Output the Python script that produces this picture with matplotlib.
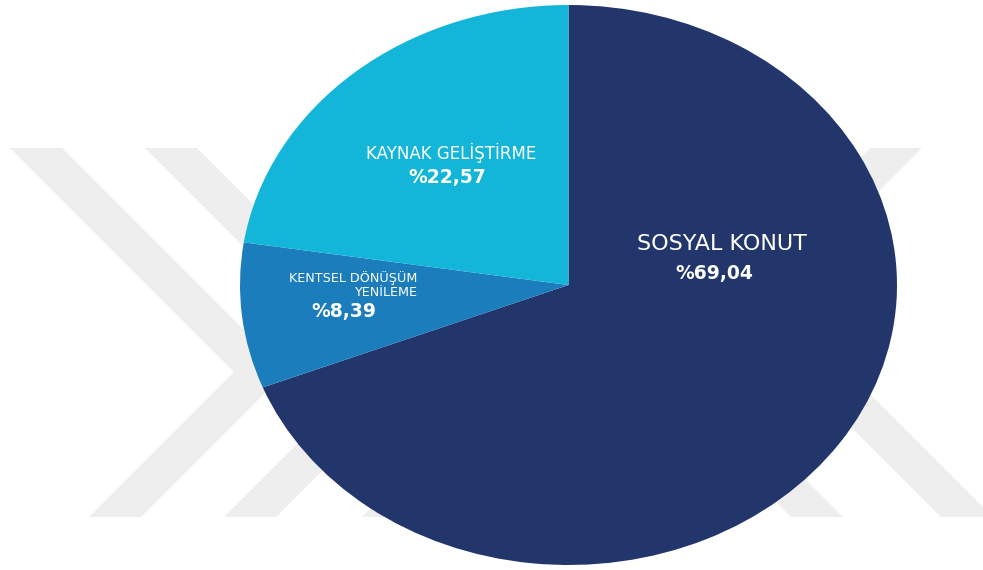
import matplotlib
matplotlib.use("Agg")
import matplotlib.pyplot as plt
from matplotlib.patches import Polygon

# ---- data ----
categories = ["SOSYAL KONUT", "KENTSEL DÖNÜŞÜM\nYENİLEME", "KAYNAK GELİŞTİRME"]
values = [69.04, 8.39, 22.57]
value_labels = ["%69,04", "%8,39", "%22,57"]
colors = ["#22366C", "#1B7DBB", "#13B6D8"]

W, H = 983, 570
fig = plt.figure(figsize=(W / 100, H / 100), dpi=100)
fig.patch.set_facecolor("white")

# ---- background watermark (pixel coordinates) ----
bg = fig.add_axes([0, 0, 1, 1], zorder=0)
bg.set_xlim(0, W)
bg.set_ylim(H, 0)
bg.axis("off")
top_y, apex_y, bot_y, sw = 148, 372, 517, 52
wm = "#EEEEEE"

def chevron(x0, direction, upper=True, lower=True):
    ax_in = x0 + direction * (apex_y - top_y)
    bx = ax_in - direction * (bot_y - apex_y)
    if upper:
        bg.add_patch(Polygon([(x0, top_y), (x0 + sw, top_y), (ax_in + sw, apex_y),
                              (ax_in, apex_y)], closed=True, facecolor=wm,
                             edgecolor="none"))
    if lower:
        bg.add_patch(Polygon([(ax_in, apex_y), (ax_in + sw, apex_y), (bx + sw, bot_y),
                              (bx, bot_y)], closed=True, facecolor=wm,
                             edgecolor="none"))

for x0 in [10, 145, 283]:
    chevron(x0, +1)
chevron(870, -1)
chevron(1020, -1, upper=False)

# ---- pie (elliptical) ----
cx, cy, rx, ry = 568.5, 285, 328.5, 280
ax = fig.add_axes([0, 0, 1, 1], zorder=1)
ax.patch.set_alpha(0)
ax.pie(values, colors=colors, startangle=90, counterclock=False,
       radius=1, center=(0, 0), wedgeprops=dict(linewidth=0))
ax.set_aspect("auto")
ax.set_xlim(-cx / rx, (W - cx) / rx)
ax.set_ylim((cy - H) / ry, cy / ry)
ax.axis("off")

def px(x, y):
    return ((x - cx) / rx, (cy - y) / ry)

font = "DejaVu Sans"
# SOSYAL KONUT
ax.text(*px(722, 244), categories[0], color="white", fontsize=16,
        ha="center", va="center", family=font)
ax.text(*px(714, 273), value_labels[0], color="white", fontsize=13.5,
        ha="center", va="center", family=font, fontweight="bold")
# KAYNAK GELİŞTİRME
ax.text(*px(451, 153), categories[2], color="white", fontsize=12,
        ha="center", va="center", family=font)
ax.text(*px(447, 178), value_labels[2], color="white", fontsize=13.5,
        ha="center", va="center", family=font, fontweight="bold")
# KENTSEL DÖNÜŞÜM YENİLEME
ax.text(*px(417, 285), categories[1], color="white", fontsize=9.2,
        ha="right", va="center", family=font, linespacing=1.12,
        multialignment="right")
ax.text(*px(344, 311), value_labels[1], color="white", fontsize=13.5,
        ha="center", va="center", family=font, fontweight="bold")

fig.savefig("out.png", dpi=100, facecolor="white")
